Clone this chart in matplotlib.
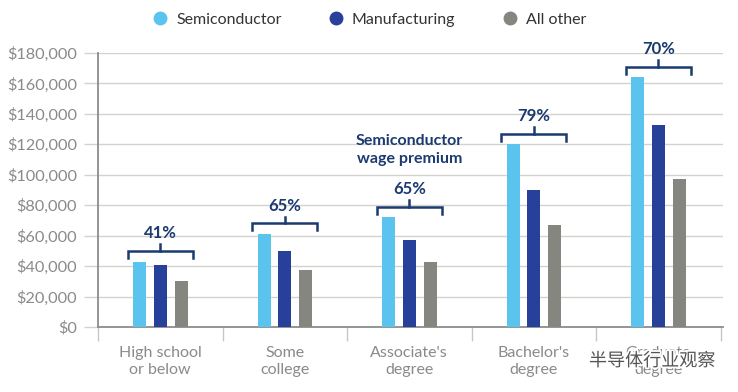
import matplotlib
matplotlib.use("Agg")
import matplotlib.pyplot as plt
import matplotlib.patheffects as pe
from matplotlib.lines import Line2D
import numpy as np

categories = ["High school\nor below", "Some\ncollege", "Associate's\ndegree", "Bachelor's\ndegree", "Graduate\ndegree"]
series_names = ["Semiconductor", "Manufacturing", "All other"]
semiconductor = [43000, 61000, 72000, 120000, 164000]
manufacturing = [41000, 50000, 57000, 90000, 133000]
all_other = [30000, 37500, 43000, 67000, 97000]
premium_labels = ["41%", "65%", "65%", "79%", "70%"]
ytick_values = list(range(0, 180001, 20000))

c_semi = "#5bc4ee"
c_manu = "#27409a"
c_other = "#868681"
navy = "#1b3a6f"
grid_c = "#d4d2cd"
tick_c = "#8a8a8a"

plt.rcParams['font.family'] = ['Lato', 'DejaVu Sans']

fig = plt.figure(figsize=(7.38, 3.92), dpi=100)
ax = fig.add_axes([98/738, 1-327/392, 625/738, 274/392])

x = np.arange(len(categories))
w = 0.105
off = 0.165
ax.bar(x - off, semiconductor, w, color=c_semi, zorder=3)
ax.bar(x, manufacturing, w, color=c_manu, zorder=3)
ax.bar(x + off + 0.003, all_other, w, color=c_other, zorder=3)

ax.set_xlim(-0.5, 4.52)
ax.set_ylim(0, 180000)
ax.set_yticks(ytick_values)
ax.set_yticklabels([f"${v:,.0f}" for v in ytick_values])
ax.yaxis.grid(True, color=grid_c, linewidth=1, zorder=0)
ax.tick_params(axis='y', length=10, color=grid_c, labelcolor=tick_c, labelsize=11.8, pad=5, width=1)

ax.set_xticks(x)
ax.set_xticklabels(categories)
ax.tick_params(axis='x', which='major', length=0, labelcolor=tick_c, labelsize=11.5, pad=14)
ax.set_xticks(np.arange(-0.5, 5, 1.0), minor=True)
ax.tick_params(axis='x', which='minor', length=10, color="#c9c7c2", width=1)

for s in ['top', 'right']:
    ax.spines[s].set_visible(False)
ax.spines['left'].set_color("#8c8c8c")
ax.spines['bottom'].set_color("#8c8c8c")
ax.spines['left'].set_linewidth(1.3)
ax.spines['bottom'].set_linewidth(1.3)

# brackets
bh = 0.26
gap = 7000
leg = 4500
for i, (sv, lab) in enumerate(zip(semiconductor, premium_labels)):
    yb = sv + gap
    ax.plot([i - bh, i - bh, i + bh, i + bh], [yb - leg, yb, yb, yb - leg],
            color=navy, lw=1.8, solid_joinstyle='miter', zorder=4, clip_on=False)
    ax.plot([i, i], [yb, yb + leg], color=navy, lw=1.8, zorder=4, clip_on=False)
    ax.text(i, yb + leg + 2000, lab, ha='center', va='bottom', color=navy,
            fontsize=12, fontweight='bold', zorder=5)

ax.text(2, 116000, "Semiconductor\nwage premium", ha='center', va='center',
        color=navy, fontsize=11.5, fontweight='bold', linespacing=1.35, zorder=5)

handles = [Line2D([0], [0], marker='o', color='none', markerfacecolor=c, markeredgecolor=c, markersize=9)
           for c in (c_semi, c_manu, c_other)]
leg_ = fig.legend(handles, series_names, loc='center', bbox_to_anchor=(0.5, 1-20/392), ncol=3,
                  frameon=False, fontsize=11.5, handlelength=1.0, handletextpad=0.5, columnspacing=2.9)
for t in leg_.get_texts():
    t.set_color("#333333")

fig.text(652/738, 1-361/392, "半导体行业观察", ha='center', va='center', fontsize=13,
         color="#555555", family=['Noto Sans CJK SC', 'DejaVu Sans'],
         path_effects=[pe.withStroke(linewidth=2.5, foreground='white')], zorder=10)

fig.savefig("out.png", dpi=100)
